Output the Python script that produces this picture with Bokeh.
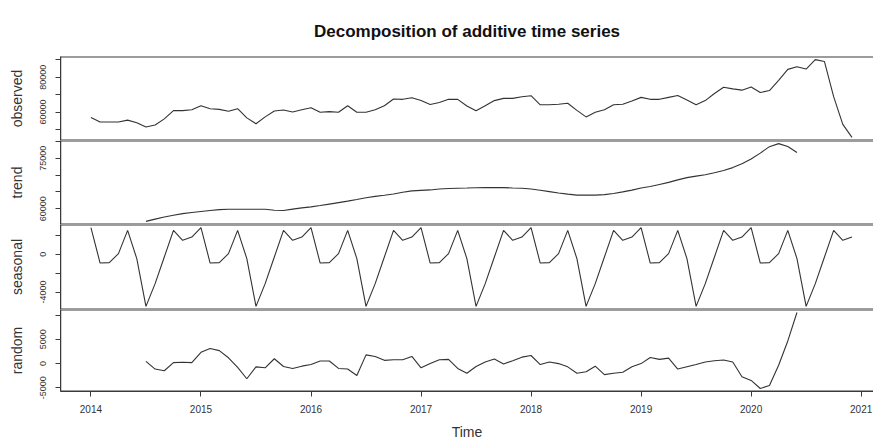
import numpy as np
from bokeh.plotting import figure
from bokeh.layouts import column
from bokeh.models import FixedTicker, Range1d, Span
from bokeh.embed import file_html
from bokeh.resources import INLINE

# ---------------- data ----------------
start_year = 2014
observed = [
    56870, 54240, 54240, 54240, 55360, 53850, 51440, 52560, 56090, 60790, 60790, 61350,
    63590, 61910, 61520, 60400, 61910, 56650, 53290, 57210, 60570, 61130, 60010, 61350,
    62470, 59840, 60230, 59840, 63590, 59840, 59840, 61350, 63590, 67510, 67290, 68240,
    66560, 64320, 65440, 67290, 67290, 63500, 60680, 63590, 66560, 67850, 67850, 68800,
    69360, 64150, 64150, 64490, 65050, 60960, 57210, 59840, 61350, 64150, 64490, 66390,
    68410, 67290, 67290, 68410, 69530, 66950, 64150, 66560, 70650, 74230, 73280, 72550,
    74400, 71210, 72330, 78150, 84480, 85990, 84650, 90080, 88960, 68800, 52950, 45450,
]
# trend and random run from Jul 2014 to Jun 2020
trend_start_month = 6
trend = [
    56233, 56904, 57546, 58072, 58539, 58860,
    59152, 59444, 59736, 59823, 59823, 59823, 59823, 59823, 59531, 59444, 59882, 60232,
    60553, 60932, 61370, 61808, 62246, 62742, 63268, 63647, 63997, 64377, 64873, 65282,
    65428, 65574, 65866, 65982, 66070, 66128, 66216, 66245, 66245, 66245, 66157, 66070,
    65866, 65486, 65077, 64669, 64318, 64026, 64026, 64026, 64172, 64523, 64990, 65515,
    66128, 66595, 67208, 67821, 68551, 69222, 69660, 70098, 70681, 71353, 72200, 73367,
    74768, 76490, 78417, 79322, 78475, 76666,
]
seasonal_pattern = [2833, -923, -881, 74, 2546, -456, -5517, -3109, -286, 2546, 1485, 1836]
random = [
    460, -1130, -1470, 200, 270, 200,
    2330, 3130, 2670, 1200, -800, -3130, -670, -870, 1000, -600, -1000, -530,
    -200, 530, 530, -1000, -1130, -2470, 1800, 1470, 670, 800, 800, 1470,
    -870, 0, 800, 870, -1000, -2000, -600, 330, 930, -70, 600, 1330,
    1670, -200, 330, 0, -670, -2000, -1670, -530, -2270, -2000, -1800, -670,
    0, 1270, 870, 1130, -1130, -670, -200, 330, 600, 730, 330, -2730,
    -3470, -5130, -4500, -330, 4670, 10530,
]
year_ticks = [2014, 2015, 2016, 2017, 2018, 2019, 2020, 2021]

obs_ticks = [50000, 60000, 70000, 80000, 90000]
obs_labels = {50000: "", 60000: "60000", 70000: "", 80000: "80000", 90000: ""}
trend_ticks = [60000, 65000, 70000, 75000, 80000]
trend_labels = {60000: "60000", 65000: "", 70000: "", 75000: "75000", 80000: ""}
seas_ticks = [-4000, -2000, 0, 2000]
seas_labels = {-4000: "-4000", -2000: "", 0: "0", 2000: ""}
rand_ticks = [-5000, 0, 5000, 10000]
rand_labels = {-5000: "-5000", 0: "0", 5000: "5000", 10000: ""}

# ---------------- helpers ----------------
n_obs = len(observed)
t_obs = [start_year + i / 12 for i in range(n_obs)]
t_tr = [start_year + (trend_start_month + i) / 12 for i in range(len(trend))]
seasonal = (seasonal_pattern * (n_obs // 12 + 1))[:n_obs]

t0, t1 = t_obs[0], t_obs[-1]
pad = 0.04 * (t1 - t0)
px_per_year = 110.3
x_lo = t0 - pad
x_hi = x_lo + 815 / px_per_year
xr = Range1d(x_lo, x_hi)

FONT = "Liberation Sans"
INK = "#333333"
BOX = "#3a3a3a"


def r_range(vals):
    lo, hi = min(vals), max(vals)
    s = hi - lo
    return lo - 0.04 * s, hi + 0.04 * s


def panel(height, t, v, label, ticks, labels, top=0, bottom=0, xaxis=False):
    y_lo, y_hi = r_range(v)
    p = figure(width=873, height=height, x_range=xr, y_range=Range1d(y_lo, y_hi),
               output_backend="svg", toolbar_location=None,
               min_border_left=60, min_border_right=0,
               min_border_top=top, min_border_bottom=bottom,
               x_axis_location="below" if xaxis else None)
    p.grid.visible = False
    p.background_fill_color = "white"
    p.border_fill_color = "white"
    p.outline_line_color = None
    # box on top, bottom and left (the right side lies beyond the picture)
    for loc in (y_lo, y_hi):
        p.add_layout(Span(location=loc, dimension="width", line_color=BOX, line_width=2.2))
    p.add_layout(Span(location=x_lo, dimension="height", line_color=BOX, line_width=1.5))
    p.line(t, v, line_color=INK, line_width=1.1)
    ax = p.yaxis[0]
    ax.ticker = FixedTicker(ticks=ticks)
    ax.major_label_overrides = labels
    ax.major_label_orientation = "vertical"
    ax.major_label_text_font = FONT
    ax.major_label_text_font_size = "9px"
    ax.major_label_text_color = "#333333"
    ax.major_label_standoff = 9
    ax.major_tick_out = 5
    ax.major_tick_in = 0
    ax.minor_tick_out = 0
    ax.minor_tick_in = 0
    ax.major_tick_line_color = BOX
    ax.axis_line_color = BOX
    ax.axis_label = label
    ax.axis_label_text_font = FONT
    ax.axis_label_text_font_size = "14px"
    ax.axis_label_text_font_style = "normal"
    ax.axis_label_text_color = "#333333"
    ax.axis_label_standoff = 13
    if xaxis:
        xa = p.xaxis[0]
        xa.ticker = FixedTicker(ticks=year_ticks)
        xa.major_label_text_font = FONT
        xa.major_label_text_font_size = "10px"
        xa.major_label_text_color = "#333333"
        xa.major_label_standoff = 8
        xa.major_tick_out = 5
        xa.major_tick_in = 0
        xa.minor_tick_out = 0
        xa.minor_tick_in = 0
        xa.major_tick_line_color = BOX
        xa.axis_line_color = BOX
        xa.axis_label = "Time"
        xa.axis_label_text_font = FONT
        xa.axis_label_text_font_size = "14px"
        xa.axis_label_text_font_style = "normal"
        xa.axis_label_text_color = "#333333"
        xa.axis_label_standoff = 8
    return p


p1 = panel(140, t_obs, observed, "observed", obs_ticks, obs_labels, top=56)
p1.title.text = "Decomposition of additive time series"
p1.title.align = "center"
p1.title.offset = 6
p1.title.text_font = FONT
p1.title.text_font_size = "17px"
p1.title.text_font_style = "bold"
p1.title.text_color = "#111111"
p1.title.standoff = 31
p2 = panel(84, t_tr, trend, "trend", trend_ticks, trend_labels)
p3 = panel(85, t_obs, seasonal, "seasonal", seas_ticks, seas_labels)
p4 = panel(133, t_tr, random, "random", rand_ticks, rand_labels, bottom=49, xaxis=True)

layout = column(p1, p2, p3, p4, spacing=0)
open("out.html", "w").write(file_html(layout, INLINE))
